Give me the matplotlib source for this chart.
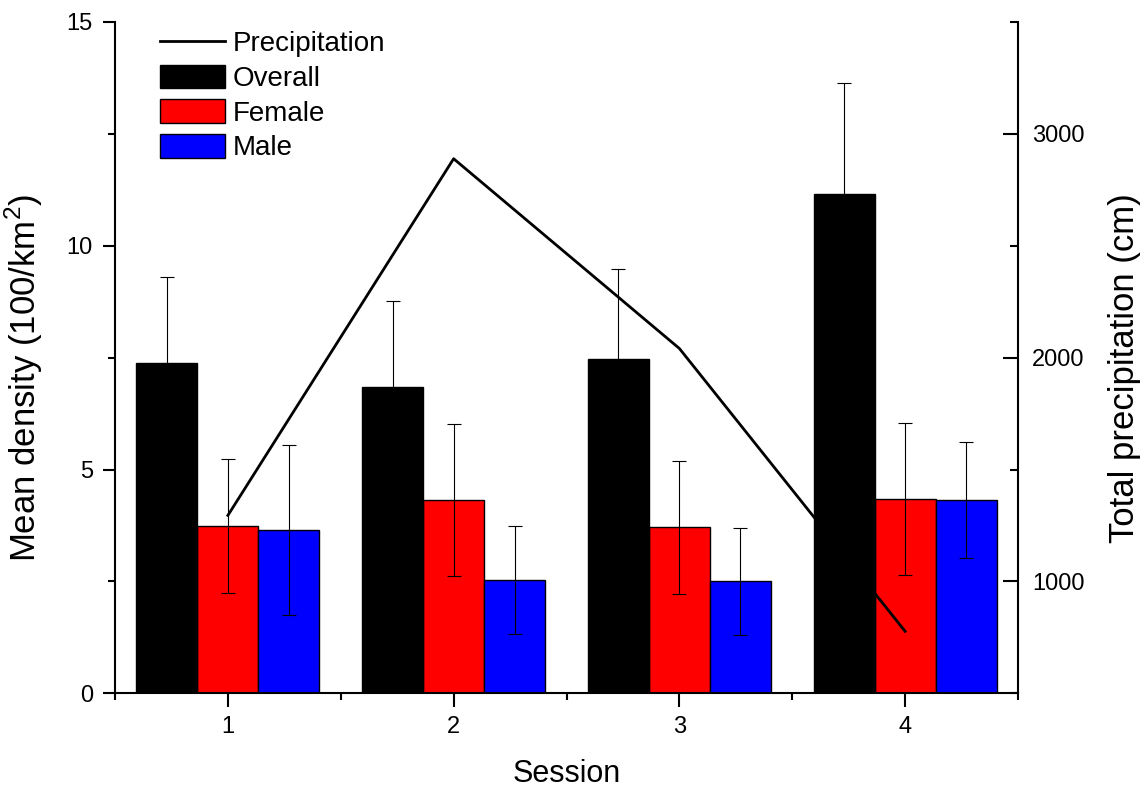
import matplotlib
matplotlib.use('Agg')
import matplotlib.pyplot as plt
import numpy as np
from matplotlib.patches import Patch
from matplotlib.lines import Line2D
from matplotlib.ticker import MultipleLocator

plt.rcParams['font.family'] = ['Liberation Sans', 'DejaVu Sans']
plt.rcParams['mathtext.fontset'] = 'custom'
plt.rcParams['mathtext.rm'] = 'Liberation Sans'

# data
sessions = [1, 2, 3, 4]
overall = [7.37, 6.85, 7.46, 11.15]
overall_err = [1.93, 1.92, 2.02, 2.48]
female = [3.74, 4.32, 3.71, 4.34]
female_err = [1.49, 1.69, 1.48, 1.70]
male = [3.65, 2.53, 2.50, 4.32]
male_err = [1.90, 1.20, 1.20, 1.30]
precip = [1295, 2889, 2041, 777]

W, H = 1145, 793
fig = plt.figure(figsize=(W / 100, H / 100), dpi=100)
ax = fig.add_axes([115 / W, 1 - 693.3 / H, (1018 - 115) / W, (693.3 - 22) / H])

x = np.array(sessions)
w = 0.27
ekw = dict(ecolor='black', elinewidth=0.8, capsize=5, capthick=0.8)

# red / blue bars under the line
ax.bar(x, female, w, yerr=female_err, color='#ff0000', edgecolor='black',
       linewidth=1.0, error_kw=ekw)
ax.bar(x + w, male, w, yerr=male_err, color='#0000ff', edgecolor='black',
       linewidth=1.0, error_kw=ekw)

ax.set_xlim(0.5, 4.5)
ax.set_ylim(0, 15)
ax.set_xticks(sessions)
ax.set_yticks([0, 5, 10, 15])
ax.xaxis.set_minor_locator(MultipleLocator(0.5))
ax.yaxis.set_minor_locator(MultipleLocator(2.5))
ax.tick_params(axis='x', which='major', direction='out', length=10, width=1.5,
               labelsize=17, pad=6)
ax.tick_params(axis='x', which='minor', direction='out', length=5, width=1.5)
ax.tick_params(axis='y', which='major', direction='out', length=9, width=1.5,
               labelsize=17, pad=7)
ax.tick_params(axis='y', which='minor', direction='out', length=5, width=1.5)
for s in ['top', 'right']:
    ax.spines[s].set_visible(False)
for s in ['left', 'bottom']:
    ax.spines[s].set_linewidth(1.5)

ax.set_xlabel('Session', fontsize=22)
ax.xaxis.set_label_coords(0.5, -0.098)
ax.set_ylabel('Mean density (100/km$^2$)', fontsize=25)
ax.yaxis.set_label_coords(-0.078, 0.47)

# precipitation on right axis
ax2 = ax.twinx()
ax2.plot(x, precip, color='black', linewidth=2)
ax2.set_ylim(500, 3500)
ax2.set_yticks([1000, 2000, 3000])
ax2.yaxis.set_minor_locator(MultipleLocator(500))
ax2.tick_params(axis='y', which='major', direction='in', length=11, width=1.5,
                labelsize=17, pad=10)
ax2.tick_params(axis='y', which='minor', direction='in', length=6, width=1.5)
for s in ['top', 'left', 'bottom']:
    ax2.spines[s].set_visible(False)
ax2.spines['right'].set_linewidth(1.5)
ax2.set_ylabel('Total precipitation (cm)', fontsize=25)
ax2.yaxis.set_label_coords(1.1, 0.485)

# black bars sit on top of the line
ax3 = ax.twinx()
ax3.bar(x - w, overall, w, yerr=overall_err, color='black', edgecolor='black',
        linewidth=1.0, error_kw=ekw)
ax3.set_ylim(0, 15)
ax3.axis('off')

handles = [Line2D([], [], color='black', linewidth=2),
           Patch(facecolor='black', edgecolor='black'),
           Patch(facecolor='#ff0000', edgecolor='black'),
           Patch(facecolor='#0000ff', edgecolor='black')]
labels = ['Precipitation', 'Overall', 'Female', 'Male']
ax3.legend(handles, labels, loc='upper left', bbox_to_anchor=(160 / W, 1 - 30 / H),
           bbox_transform=fig.transFigure, frameon=False, fontsize=20,
           handlelength=2.34, handleheight=0.94, handletextpad=0.29,
           labelspacing=0.26, borderpad=0, borderaxespad=0)

fig.savefig('out.png', dpi=100)
